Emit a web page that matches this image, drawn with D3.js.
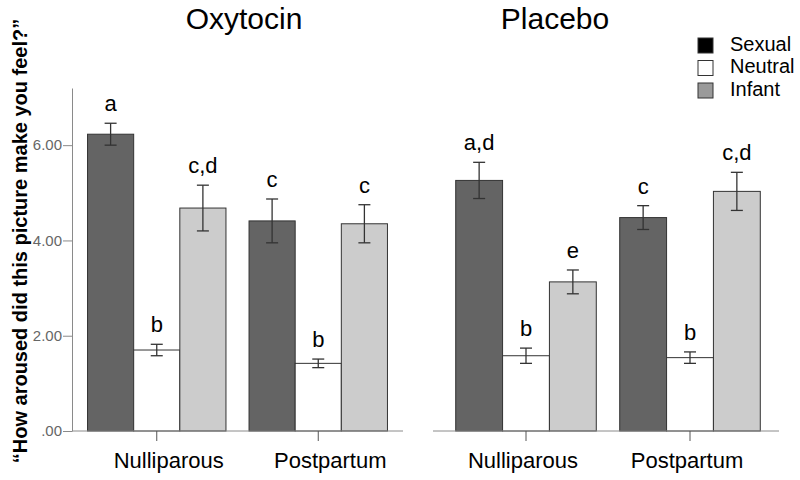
<!DOCTYPE html>
<html>
<head>
<meta charset="utf-8">
<script src="https://cdn.jsdelivr.net/npm/d3@7"></script>
<style>
  body { margin: 0; background: #fff; }
  svg { font-family: Arial, "Liberation Sans", sans-serif; }
</style>
</head>
<body>
<div id="chart-area"></div>
<script>
// ---- data ----
var groups = ["Nulliparous", "Postpartum"];
var series = ["Sexual", "Neutral", "Infant"];
var yTicks = [0, 2, 4, 6];

var oxytocinMeans   = [[6.23, 1.70, 4.68], [4.41, 1.42, 4.35]];
var oxytocinErr     = [[0.23, 0.12, 0.48], [0.46, 0.09, 0.40]];
var oxytocinLetters = [["a", "b", "c,d"], ["c", "b", "c"]];

var placeboMeans    = [[5.26, 1.58, 3.13], [4.48, 1.54, 5.03]];
var placeboErr      = [[0.38, 0.16, 0.25], [0.25, 0.12, 0.40]];
var placeboLetters  = [["a,d", "b", "e"], ["c", "b", "c,d"]];

var barColor    = {Sexual: "#646464", Neutral: "#ffffff", Infant: "#cccccc"};
var legendColor = {Sexual: "#000000", Neutral: "#ffffff", Infant: "#9a9a9a"};

var width = 800, height = 480;
var svg = d3.select("#chart-area").append("svg")
    .attr("width", width)
    .attr("height", height);

var y = d3.scaleLinear()
    .domain([0, 7.2])
    .range([431, 88]);

// y axis
var yAxis = d3.axisLeft(y)
    .tickValues(yTicks)
    .tickSize(9)
    .tickSizeOuter(0)
    .tickFormat(function(d) { return d3.format(".2f")(d).replace(/^0/, ""); });

var ya = svg.append("g")
    .attr("transform", "translate(72,0)")
    .call(yAxis);
ya.select(".domain").attr("stroke", "#8a8a8a");
ya.selectAll(".tick line").attr("stroke", "#8a8a8a");
ya.selectAll(".tick text")
    .attr("font-size", "15px")
    .attr("fill", "#666")
    .attr("font-family", "Arial, 'Liberation Sans', sans-serif")
    .attr("x", -10);

// y label
svg.append("text")
    .attr("transform", "translate(27,241) rotate(-90)")
    .attr("text-anchor", "middle")
    .attr("font-size", "20px")
    .attr("font-weight", "bold")
    .text("\u201cHow aroused did this picture make you feel?\u201d");

// panels
var panels = [
    {title: "Oxytocin", means: oxytocinMeans, err: oxytocinErr, letters: oxytocinLetters,
     line: [72, 403], band: [76, 399], titleX: 244, labelShift: 12},
    {title: "Placebo", means: placeboMeans, err: placeboErr, letters: placeboLetters,
     line: [433, 779], band: [444, 772], titleX: 555, labelShift: -3}
];

panels.forEach(function(p) {
    var g = svg.append("g");

    var x0 = d3.scaleBand().domain(groups).range(p.band).padding(0);
    var x1 = d3.scaleBand().domain(series).range([0, x0.bandwidth()])
        .paddingInner(0).paddingOuter(0.25);

    var rows = [];
    groups.forEach(function(gr, gi) {
        series.forEach(function(s, si) {
            rows.push({group: gr, series: s, mean: p.means[gi][si],
                       err: p.err[gi][si], letter: p.letters[gi][si]});
        });
    });

    // title
    g.append("text")
        .attr("x", p.titleX)
        .attr("y", 29)
        .attr("text-anchor", "middle")
        .attr("font-size", "30px")
        .text(p.title);

    // bars
    g.selectAll("rect.bar")
        .data(rows)
        .enter().append("rect")
        .attr("class", "bar")
        .attr("x", function(d) { return x0(d.group) + x1(d.series); })
        .attr("y", function(d) { return y(d.mean); })
        .attr("width", x1.bandwidth())
        .attr("height", function(d) { return y(0) - y(d.mean); })
        .attr("fill", function(d) { return barColor[d.series]; })
        .attr("stroke", "#333")
        .attr("stroke-width", 1);

    // error bars
    var eb = g.selectAll("g.err")
        .data(rows)
        .enter().append("g")
        .attr("class", "err")
        .attr("transform", function(d) {
            return "translate(" + (x0(d.group) + x1(d.series) + x1.bandwidth() / 2) + ",0)";
        })
        .attr("stroke", "#333")
        .attr("stroke-width", 1.3);
    eb.append("line")
        .attr("y1", function(d) { return y(d.mean + d.err); })
        .attr("y2", function(d) { return y(d.mean - d.err); });
    eb.append("line")
        .attr("x1", -6).attr("x2", 6)
        .attr("y1", function(d) { return y(d.mean + d.err); })
        .attr("y2", function(d) { return y(d.mean + d.err); });
    eb.append("line")
        .attr("x1", -6).attr("x2", 6)
        .attr("y1", function(d) { return y(d.mean - d.err); })
        .attr("y2", function(d) { return y(d.mean - d.err); });

    // significance letters
    g.selectAll("text.letter")
        .data(rows)
        .enter().append("text")
        .attr("class", "letter")
        .attr("x", function(d) { return x0(d.group) + x1(d.series) + x1.bandwidth() / 2; })
        .attr("y", function(d) { return y(d.mean + d.err) - 12; })
        .attr("text-anchor", "middle")
        .attr("font-size", "22px")
        .text(function(d) { return d.letter; });

    // baseline
    g.append("line")
        .attr("x1", p.line[0]).attr("x2", p.line[1])
        .attr("y1", y(0)).attr("y2", y(0))
        .attr("stroke", "#8a8a8a");

    // x axis ticks + labels
    var xAxis = d3.axisBottom(x0).tickSize(10).tickSizeOuter(0);
    var xa = g.append("g")
        .attr("transform", "translate(0," + y(0) + ")")
        .call(xAxis);
    xa.select(".domain").remove();
    xa.selectAll(".tick line").attr("stroke", "#555");
    xa.selectAll(".tick text")
        .attr("font-size", "22px")
        .attr("fill", "#000")
        .attr("font-family", "Arial, 'Liberation Sans', sans-serif")
        .attr("dy", 0)
        .attr("y", 37)
        .attr("dx", p.labelShift);
});

// legend
var legend = svg.append("g")
    .attr("transform", "translate(698,38)");
var li = legend.selectAll("g")
    .data(series)
    .enter().append("g")
    .attr("transform", function(d, i) { return "translate(0," + (i * 22.5) + ")"; });
li.append("rect")
    .attr("width", 15).attr("height", 15)
    .attr("fill", function(d) { return legendColor[d]; })
    .attr("stroke", "#333");
li.append("text")
    .attr("x", 32)
    .attr("y", 12.5)
    .attr("font-size", "20px")
    .text(function(d) { return d; });
</script>
</body>
</html>
